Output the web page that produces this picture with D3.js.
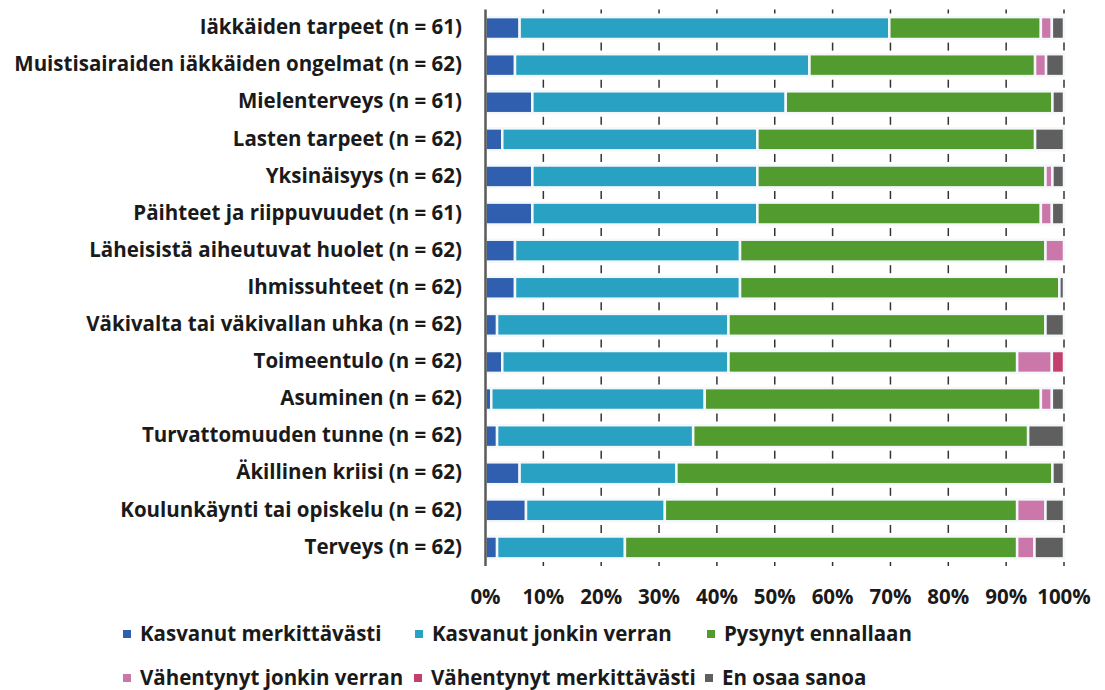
<!DOCTYPE html>
<html>
<head>
<meta charset="utf-8">
<script src="https://cdn.jsdelivr.net/npm/d3@7"></script>
<style>
  body { margin: 0; background: #fff; }
  text { font-family: "Open Sans", Lato, sans-serif; font-weight: bold; fill: #1a1a1a; }
</style>
</head>
<body>
<svg id="chart" width="1105" height="690"></svg>
<script>

var categories = [
  "Iäkkäiden tarpeet (n = 61)",
  "Muistisairaiden iäkkäiden ongelmat (n = 62)",
  "Mielenterveys (n = 61)",
  "Lasten tarpeet (n = 62)",
  "Yksinäisyys (n = 62)",
  "Päihteet ja riippuvuudet (n = 61)",
  "Läheisistä aiheutuvat huolet (n = 62)",
  "Ihmissuhteet (n = 62)",
  "Väkivalta tai väkivallan uhka (n = 62)",
  "Toimeentulo (n = 62)",
  "Asuminen (n = 62)",
  "Turvattomuuden tunne (n = 62)",
  "Äkillinen kriisi (n = 62)",
  "Koulunkäynti tai opiskelu (n = 62)",
  "Terveys (n = 62)"
];

var seriesNames = [
  "Kasvanut merkittävästi",
  "Kasvanut jonkin verran",
  "Pysynyt ennallaan",
  "Vähentynyt jonkin verran",
  "Vähentynyt merkittävästi",
  "En osaa sanoa"
];

// percent per category, same order as categories
var kasvanutMerk   = [5.9, 5.1, 8.1, 2.9, 8.1, 8.1, 5.1, 5.1, 2.0, 2.9, 1.0, 2.0, 5.9, 7.0, 2.0];
var kasvanutJonkin = [63.9, 50.9, 43.8, 44.1, 38.9, 38.9, 38.9, 38.9, 40.0, 39.1, 36.9, 33.9, 27.1, 24.0, 22.1];
var pysynyt        = [26.2, 39.0, 46.1, 48.0, 49.8, 49.0, 52.8, 55.2, 54.8, 49.9, 58.1, 57.9, 65.0, 60.9, 67.8];
var vahentJonkin   = [1.9, 1.9, 0, 0, 1.2, 1.9, 3.2, 0, 0, 6.0, 1.9, 0, 0, 4.9, 3.0];
var vahentMerk     = [0, 0, 0, 0, 0, 0, 0, 0, 0, 2.1, 0, 0, 0, 0, 0];
var enOsaa         = [2.1, 3.1, 2.0, 5.0, 2.0, 2.1, 0, 0.8, 3.2, 0, 2.1, 6.2, 2.0, 3.2, 5.1];

var tickValues = [0, 10, 20, 30, 40, 50, 60, 70, 80, 90, 100];

var colors = ["#2f5fae", "#29a1c2", "#529b2f", "#cc77aa", "#c33f6d", "#5f5f5f"];

var seriesValues = [kasvanutMerk, kasvanutJonkin, pysynyt, vahentJonkin, vahentMerk, enOsaa];

var rows = categories.map(function(c, i) {
  var r = {cat: c};
  seriesNames.forEach(function(s, j) { r[s] = seriesValues[j][i]; });
  return r;
});

var margin = {top: 9.5, left: 485.5, right: 1064, bottom: 566};
var fontSize = "20.5px";

var svg = d3.select("#chart");

var x = d3.scaleLinear().domain([0, 100]).range([margin.left, margin.right]);

var y = d3.scaleBand()
  .domain(categories)
  .range([margin.top, margin.bottom])
  .paddingInner(0.41)
  .paddingOuter(0.205);

var stacked = d3.stack().keys(seriesNames)(rows);

// short grid dashes between rows
var step = y.step();
var bounds = d3.range(categories.length + 1).map(function(i) { return margin.top + i * step; });
var grid = svg.append("g");
tickValues.slice(1).forEach(function(t) {
  bounds.forEach(function(b) {
    grid.append("line")
      .attr("x1", x(t)).attr("x2", x(t))
      .attr("y1", Math.max(margin.top, b - 4))
      .attr("y2", Math.min(margin.bottom, b + 4))
      .attr("stroke", "#333")
      .attr("stroke-width", 1.5);
  });
});

var layer = svg.selectAll(".layer")
  .data(stacked)
  .enter().append("g")
  .attr("class", "layer")
  .attr("fill", function(d, i) { return colors[i]; });

layer.selectAll("rect")
  .data(function(d) { return d.filter(function(p) { return p[1] - p[0] > 0; }); })
  .enter().append("rect")
  .attr("x", function(d) { return x(d[0]); })
  .attr("width", function(d) { return x(d[1]) - x(d[0]); })
  .attr("y", function(d) { return y(d.data.cat); })
  .attr("height", y.bandwidth())
  .attr("stroke", "#f4f8fb")
  .attr("stroke-width", 2.5);

// vertical axis line
svg.append("line")
  .attr("x1", margin.left).attr("x2", margin.left)
  .attr("y1", margin.top).attr("y2", margin.bottom)
  .attr("stroke", "#5a5a5a")
  .attr("stroke-width", 2.5);

// category labels
svg.append("g").selectAll("text")
  .data(categories)
  .enter().append("text")
  .attr("x", 462)
  .attr("y", function(d) { return y(d) + y.bandwidth() / 2; })
  .attr("dy", "0.3em")
  .attr("text-anchor", "end")
  .style("font-size", fontSize)
  .text(function(d) { return d; });

// x tick labels
svg.append("g").selectAll("text")
  .data(tickValues)
  .enter().append("text")
  .attr("x", function(d) { return x(d); })
  .attr("y", 597)
  .attr("dy", "0.34em")
  .attr("text-anchor", "middle")
  .style("font-size", fontSize)
  .text(function(d) { return d + "%"; });

// legend
var legendPos = [[123, 634], [415, 634], [707, 634], [123, 678], [414, 678], [705, 678]];
var leg = svg.append("g").selectAll("g")
  .data(seriesNames)
  .enter().append("g")
  .attr("transform", function(d, i) { return "translate(" + legendPos[i][0] + "," + legendPos[i][1] + ")"; });

leg.append("rect")
  .attr("x", 0).attr("y", -4)
  .attr("width", 8).attr("height", 8)
  .attr("fill", function(d, i) { return colors[i]; });

leg.append("text")
  .attr("x", 17)
  .attr("dy", "0.34em")
  .style("font-size", fontSize)
  .text(function(d) { return d; });

</script>
</body>
</html>
